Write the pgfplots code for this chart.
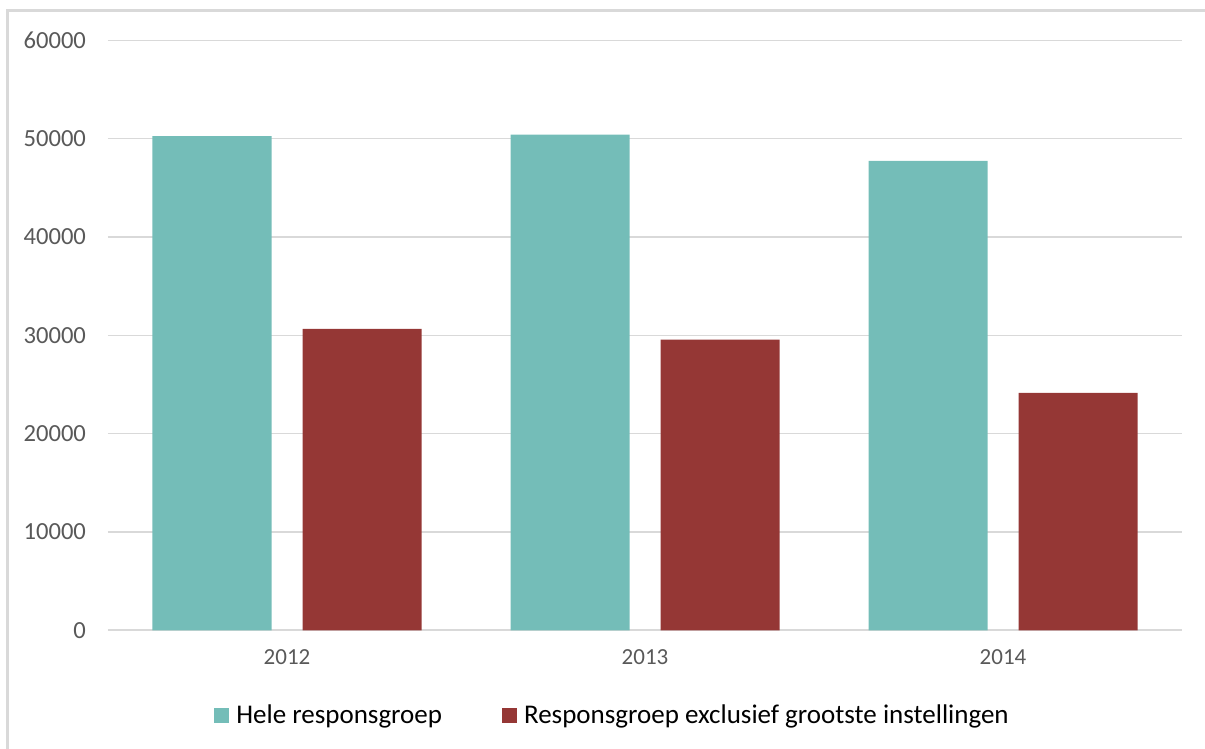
\documentclass[border=0pt]{standalone}
\usepackage{pgfplots}
\pgfplotsset{compat=1.18}
\usepackage{fontspec}
\setmainfont{Carlito}
\definecolor{teal1}{RGB}{116,189,184}
\definecolor{red1}{RGB}{149,55,53}
\definecolor{gridc}{RGB}{217,217,217}
\definecolor{tickc}{RGB}{89,89,89}
\begin{document}
\begin{tikzpicture}[x=0.5pt,y=0.5pt]
\useasboundingbox (0,0) rectangle (1205,749);
\draw[gridc, line width=1.2pt] (7.5,0) -- (7.5,738.5) -- (1205,738.5);
\begin{axis}[
  at={(108pt*0.5,118.7pt*0.5)}, anchor=south west,
  scale only axis, width=537pt, height=295pt,
  xmin=-0.5, xmax=2.5, ymin=0, ymax=60000,
  xtick={0,1,2}, xticklabels={2012,2013,2014},
  ytick={0,10000,...,60000},
  scaled y ticks=false,
  /pgf/number format/assume math mode=true,
  /pgf/number format/set thousands separator={},
  yticklabel style={/pgf/number format/fixed, font=\fontsize{12.3}{14}\selectfont, text=tickc},
  xticklabel style={font=\fontsize{11.5}{13}\selectfont, text=tickc},
  major tick length=0pt,
  ymajorgrids, grid style={gridc, line width=0.75pt},
  axis line style={draw=none},
  axis x line*=bottom, axis y line*=left,
  yticklabel shift=7.5pt, xticklabel shift=6pt,
  clip=false,
  legend style={at={(0.4707,-0.145)}, anchor=center, draw=none, fill=none,
    legend columns=2, font=\fontsize{13.5}{15}\selectfont,
    /tikz/every odd column/.append style={column sep=1.5pt},
    /tikz/every even column/.append style={column sep=28pt}},
  legend image code/.code={\fill[#1] (0pt,-3.75pt) rectangle (7.5pt,3.75pt);},
]
\draw[gridc, line width=0.9pt] (axis cs:-0.5,0) -- (axis cs:2.5,0);
\addplot[ybar, bar width=59.5pt, bar shift=-37.5pt, fill=teal1, draw=none] coordinates {(0,50250) (1,50400) (2,47750)};
\addlegendentry{Hele responsgroep}
\addplot[ybar, bar width=59.5pt, bar shift=37.5pt, fill=red1, draw=none] coordinates {(0,30650) (1,29550) (2,24150)};
\addlegendentry{Responsgroep exclusief grootste instellingen}
\end{axis}
\end{tikzpicture}
\end{document}
